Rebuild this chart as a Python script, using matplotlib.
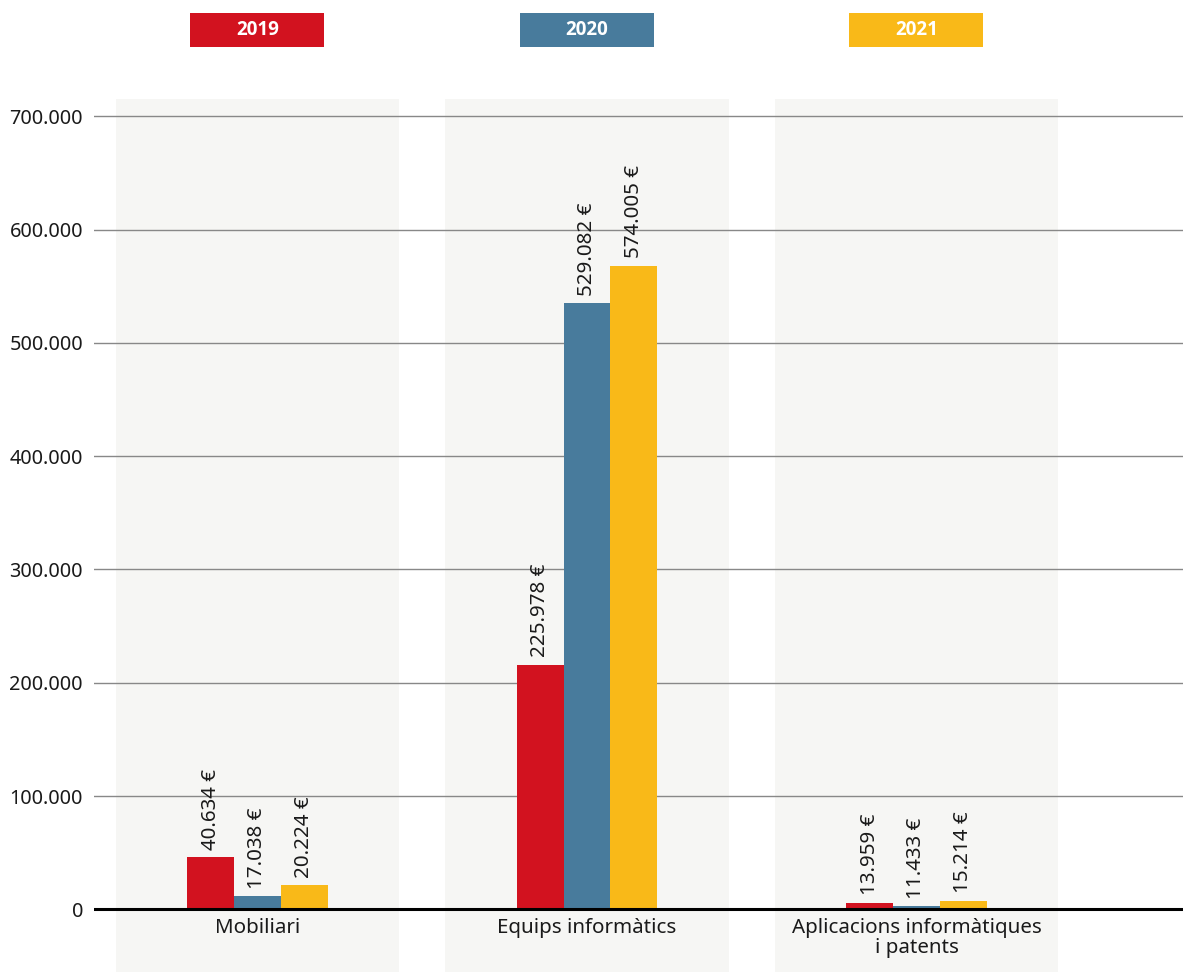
import matplotlib
matplotlib.use("Agg")
import matplotlib.pyplot as plt
from matplotlib.patches import Rectangle
from matplotlib.transforms import blended_transform_factory
from matplotlib import font_manager
import numpy as np

plt.rcParams['font.family'] = ['Noto Sans', 'DejaVu Sans']

categories = ["Mobiliari", "Equips informàtics", "Aplicacions informàtiques\ni patents"]
years = ["2019", "2020", "2021"]
# bar heights as drawn in the reference
values_2019 = [45900, 216000, 5500]
values_2020 = [11500, 535000, 2700]
values_2021 = [21200, 568000, 7500]
# value labels as printed
labels_2019 = ["40.634 €", "225.978 €", "13.959 €"]
labels_2020 = ["17.038 €", "529.082 €", "11.433 €"]
labels_2021 = ["20.224 €", "574.005 €", "15.214 €"]
yticks = [0, 100000, 200000, 300000, 400000, 500000, 600000, 700000]
ytick_labels = ["0", "100.000", "200.000", "300.000", "400.000", "500.000", "600.000", "700.000"]

colors = ["#d2121f", "#487b9c", "#f9b918"]
series = [values_2019, values_2020, values_2021]
series_labels = [labels_2019, labels_2020, labels_2021]

# pick a normal-width bold face for the legend labels
bold_prop = None
for fam in ["Open Sans", "Noto Sans", "Lato", "Roboto"]:
    for f in font_manager.fontManager.ttflist:
        if f.name == fam and f.weight in (700, "bold") and f.stretch == "normal" \
                and f.style == "normal" and "ondensed" not in f.fname:
            bold_prop = font_manager.FontProperties(fname=f.fname)
            break
    if bold_prop is not None:
        break
if bold_prop is None:
    bold_prop = font_manager.FontProperties(family="DejaVu Sans", weight="bold")
bold_prop.set_size(13.5)

W, H = 1183, 972
fig = plt.figure(figsize=(W / 100, H / 100), dpi=100)
ax = fig.add_axes([94 / W, 0, 1 - 94 / W, 1 - 99 / H])
ax.set_xlim(-0.4962, 2.8088)
ax.set_ylim(-55300, 715300)

x = np.arange(len(categories))
band_w = 0.859
bar_w = 0.1417

for xi in x:
    ax.axvspan(xi - band_w / 2, xi + band_w / 2, color="#f6f6f4", zorder=0, lw=0)

ax.set_yticks(yticks)
ax.set_yticklabels(ytick_labels, fontsize=14.3, color="#1a1a1a")
ax.tick_params(axis="y", length=0, pad=8)
ax.set_xticks([])
for yv in yticks[1:]:
    ax.axhline(yv, color="#888888", lw=1, zorder=1)
for s in ax.spines.values():
    s.set_visible(False)

for k, (vals, labs) in enumerate(zip(series, series_labels)):
    pos = x + (k - 1) * bar_w
    ax.bar(pos, vals, width=bar_w, color=colors[k], zorder=2, lw=0)
    for p, v, l in zip(pos, vals, labs):
        ax.annotate(l, (p, v), xytext=(0, 5.5), textcoords="offset points",
                    rotation=90, ha="center", va="bottom", fontsize=14.8,
                    color="#1a1a1a", zorder=3)

ax.axhline(0, color="black", lw=2.2, zorder=4)

for xi, c in zip(x, categories):
    ax.annotate(c, (xi, 0), xytext=(0, -6), textcoords="offset points",
                ha="center", va="top", fontsize=14.8, color="#1a1a1a",
                linespacing=1.05)

# legend boxes above each group
tr = blended_transform_factory(ax.transData, fig.transFigure)
box_w = 134 / 329.5
for xi, y, c in zip(x, years, colors):
    r = Rectangle((xi - box_w / 2, 1 - 47 / H), box_w, 34 / H, transform=tr,
                  facecolor=c, edgecolor="none", clip_on=False)
    fig.add_artist(r)
    t = fig.text(0, 1 - 30 / H, y, transform=tr, ha="center", va="center",
                 fontproperties=bold_prop, color="white")
    t.set_x(xi)

fig.savefig("out.png", dpi=100)
